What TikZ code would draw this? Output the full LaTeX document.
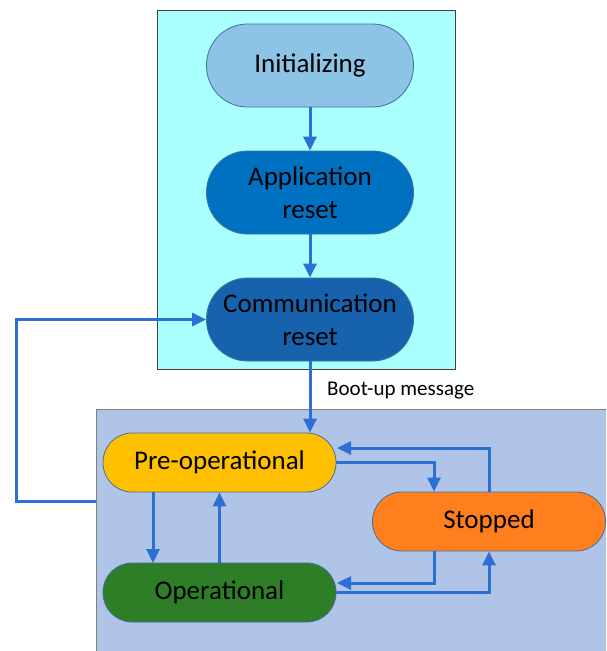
\documentclass[tikz,border=0pt]{standalone}
\usepackage{fontspec}
\setmainfont{Carlito}
\usetikzlibrary{arrows.meta}
\definecolor{topbg}{HTML}{AAFFFF}
\definecolor{botbg}{HTML}{B0C4E8}
\definecolor{initc}{HTML}{8DC3E4}
\definecolor{appc}{HTML}{0070C0}
\definecolor{commc}{HTML}{1662AD}
\definecolor{prec}{HTML}{FFC000}
\definecolor{opc}{HTML}{2E7D27}
\definecolor{stopc}{HTML}{FF7F1F}
\definecolor{arr}{HTML}{2C70D2}
\definecolor{edgec}{HTML}{41719C}
\begin{document}
\begin{tikzpicture}[x=1pt,y=-1pt,
  state/.style={draw=edgec, line width=0.8pt, rounded corners=#1, inner sep=0pt, align=center,
    font=\fontsize{27}{33}\selectfont},
  bigstate/.style={state=41pt, minimum width=207pt, minimum height=83pt},
  smallstate/.style={state=29pt, minimum width=233pt, minimum height=59pt},
  conn/.style={draw=arr, line width=3pt, -{Triangle[length=14pt,width=13pt]}},
  boxc/.style={line width=1pt}]
\clip (0,0) rectangle (606,651);
% group boxes
\path[boxc, draw=black!75, fill=topbg] (157,10) rectangle (455,369);
\path[boxc, draw=black!50, fill=botbg] (96,409) rectangle (640,680);
% states
\node[bigstate, fill=initc] (init) at (310,65.5) {Initializing};
\node[bigstate, fill=appc] (app) at (310,192.5) {Application\\reset};
\node[bigstate, fill=commc] (comm) at (310,319.5) {Communication\\reset};
\node[smallstate, fill=prec] (pre) at (219.5,462.5) {Pre-operational};
\node[smallstate, fill=opc] (op) at (219.5,592.5) {Operational};
\node[smallstate, fill=stopc] (stop) at (489,521.5) {Stopped};
\node[anchor=west, inner sep=0pt, font=\fontsize{21}{24}\selectfont] (boot) at (327,391) {Boot-up message};
% helper coordinates
\coordinate (fb) at (96,501);
\coordinate (fbl) at (16,501);
\coordinate (fbt) at (16,319.5);
\coordinate (pd) at (153,492);
\coordinate (od) at (153,563);
\coordinate (ps1) at (434,462.5);
\coordinate (sp1) at (489,448);
\coordinate (sp2) at (337,448);
\coordinate (so1) at (434,551);
\coordinate (so2) at (434,583);
\coordinate (so3) at (337,583);
\coordinate (os1) at (489,592.5);
% connectors
\draw[conn] (init) -- (app);
\draw[conn] (app) -- (comm);
\draw[conn] (comm.south) -- (comm.south |- pre.north);
\draw[conn] (fb) -- (fbl) -- (fbt) -- (comm.west);
\draw[conn] (pd) -- (od);
\draw[conn] (op.north) -- (pre.south);
\draw[conn] (pre.east) -- (ps1) -- (ps1 |- stop.north);
\draw[conn] (stop.north) -- (sp1) -- (sp2);
\draw[conn] (so1) -- (so2) -- (so3);
\draw[conn] (op.east) -- (os1) -- (stop.south);
\end{tikzpicture}
\end{document}
